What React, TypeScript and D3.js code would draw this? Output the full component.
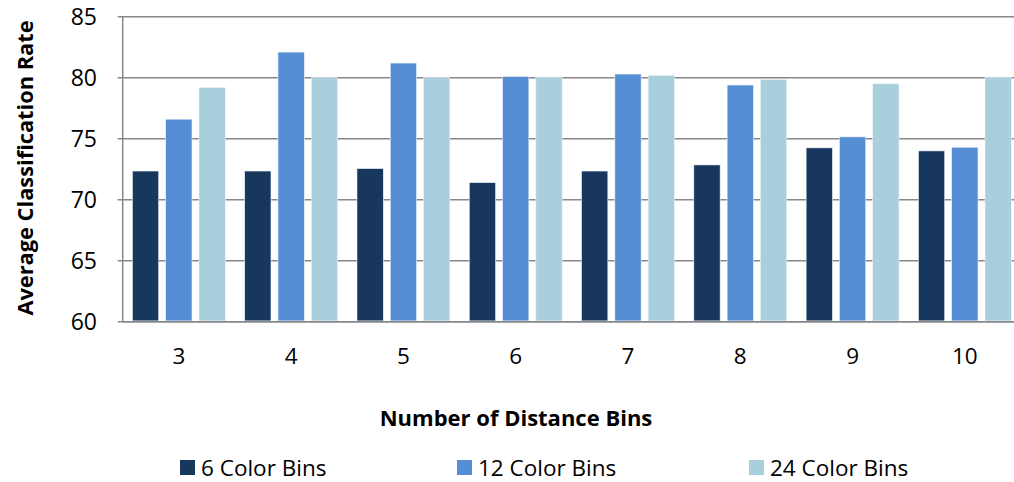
import React from "react";
import * as d3 from "d3";

// Number of distance bins on the x axis
const distanceBins = ["3", "4", "5", "6", "7", "8", "9", "10"];

// Average classification rate per colour-bin setting
const colorBins6 = [72.35, 72.35, 72.55, 71.4, 72.35, 72.85, 74.25, 74.0];
const colorBins12 = [76.6, 82.1, 81.2, 80.1, 80.3, 79.4, 75.15, 74.3];
const colorBins24 = [79.2, 80.0, 80.0, 80.05, 80.2, 79.85, 79.5, 80.05];

const seriesNames = ["6 Color Bins", "12 Color Bins", "24 Color Bins"];
const seriesColors = ["#17375E", "#558ED5", "#A9CEDC"];
const yTicks = [60, 65, 70, 75, 80, 85];

const W = 1014;
const H = 482;
const FONT = "'Open Sans', 'Noto Sans', sans-serif";

export default function App() {
  const series = [colorBins6, colorBins12, colorBins24];

  const left = 122.7;
  const top = 16.7;
  const bottom = 321.7;
  const right = 1021;

  const x = d3.scaleBand<string>().domain(distanceBins).range([left, right]);
  const inner = d3
    .scaleBand<string>()
    .domain(seriesNames)
    .range([9.7, x.bandwidth() - 9.7])
    .paddingInner(0.21);
  const y = d3.scaleLinear().domain([60, 85]).range([bottom, top]);

  const legendX = [180, 457, 749];

  return (
    <div style={{ position: "absolute", left: 0, top: 0 }}>
      <svg width={W} height={H} style={{ display: "block", background: "#fff" }} fontFamily={FONT}>
        {/* gridlines and y tick marks */}
        {yTicks.map((t) => (
          <g key={t}>
            <line x1={left - 5} x2={right} y1={y(t)} y2={y(t)} stroke="#878787" strokeWidth={1.5} />
            <text x={97} y={y(t)} dy="0.36em" textAnchor="end" fontSize={23} fill="#000">
              {t}
            </text>
          </g>
        ))}
        <line x1={left} x2={left} y1={top} y2={bottom} stroke="#878787" strokeWidth={1.5} />

        {/* bars */}
        {series.map((vals, si) =>
          vals.map((v, i) => (
            <rect
              key={`${si}-${i}`}
              x={(x(distanceBins[i]) as number) + (inner(seriesNames[si]) as number)}
              y={y(v)}
              width={inner.bandwidth()}
              height={y(60) - y(v) - 0.8}
              fill={seriesColors[si]}
              stroke="#eef3fa"
              strokeWidth={0.6}
            />
          ))
        )}
        <line x1={left} x2={right} y1={bottom} y2={bottom} stroke="#878787" strokeWidth={1.5} />

        {/* x tick labels */}
        {distanceBins.map((c) => (
          <text
            key={c}
            x={(x(c) as number) + x.bandwidth() / 2}
            y={356}
            dy="0.36em"
            textAnchor="middle"
            fontSize={22.5}
            fill="#000"
          >
            {c}
          </text>
        ))}

        {/* axis titles */}
        <text x={516} y={418} dy="0.36em" textAnchor="middle" fontSize={22} fontWeight="bold" fill="#000">
          Number of Distance Bins
        </text>
        <text
          transform={`translate(25,168) rotate(-90)`}
          dy="0.36em"
          textAnchor="middle"
          fontSize={21.8}
          fontWeight="bold"
          fill="#000"
        >
          Average Classification Rate
        </text>

        {/* legend */}
        {seriesNames.map((n, i) => (
          <g key={n}>
            <rect x={legendX[i]} y={460} width={15} height={15} fill={seriesColors[i]} />
            <text x={legendX[i] + 21} y={467.5} dy="0.36em" fontSize={22.5} fill="#000">
              {n}
            </text>
          </g>
        ))}
      </svg>
    </div>
  );
}
